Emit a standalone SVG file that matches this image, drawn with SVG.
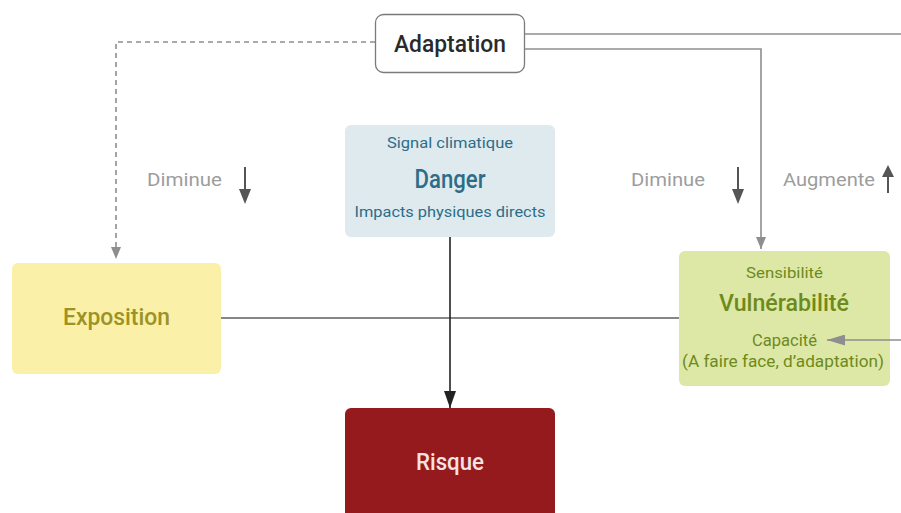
<svg xmlns="http://www.w3.org/2000/svg" width="901" height="513" viewBox="0 0 901 513">
  <style>
    text { font-family: Roboto, "DejaVu Sans Condensed", "Liberation Sans", sans-serif; text-anchor: middle; }
    .conn { fill: none; stroke: #8e8e8e; stroke-width: 1.6; }
    .dash { stroke-dasharray: 5 4; }
    .label { fill: #9d9d9d; font-size: 19px; }
    .title { font-weight: 500; }
    .dan { fill: #2e6d88; }
    .vul { fill: #6e8a1c; }
    .updown { fill: #555555; }
  </style>
  <defs>
    <marker id="tri-gray" viewBox="0 0 12 10" refX="12" refY="5" markerWidth="12" markerHeight="10" markerUnits="userSpaceOnUse" orient="auto">
      <path d="M0,0 L12,5 L0,10 z" fill="#8e8e8e"/>
    </marker>
    <marker id="tri-dark" viewBox="0 0 17 12" refX="17" refY="6" markerWidth="17" markerHeight="12" markerUnits="userSpaceOnUse" orient="auto">
      <path d="M0,0 L17,6 L0,12 z" fill="#222222"/>
    </marker>
    <marker id="tri-side" viewBox="0 0 18 11" refX="0" refY="5.5" markerWidth="18" markerHeight="11" markerUnits="userSpaceOnUse" orient="auto">
      <path d="M0,5.5 L18,0 L18,11 z" fill="#8e8e8e"/>
    </marker>
  </defs>

  <rect width="901" height="513" fill="#ffffff"/>

  <g id="adaptation">
    <rect x="375.5" y="14.5" width="149" height="58" rx="8" fill="#ffffff" stroke="#7a7a7a" stroke-width="1.3"/>
    <text class="title" x="450" y="52" font-size="24" fill="#2a2a2a" textLength="112" lengthAdjust="spacingAndGlyphs">Adaptation</text>
  </g>

  <g id="danger">
    <rect x="345" y="125" width="210" height="112" rx="6" fill="#dfeaef"/>
    <text class="dan" x="450" y="148" font-size="15.5" textLength="126" lengthAdjust="spacingAndGlyphs">Signal climatique</text>
    <text class="dan title" x="450" y="188" font-size="25" textLength="71" lengthAdjust="spacingAndGlyphs">Danger</text>
    <text class="dan" x="450" y="217" font-size="15.5" textLength="191" lengthAdjust="spacingAndGlyphs">Impacts physiques directs</text>
  </g>

  <g id="exposition">
    <rect x="12" y="263" width="209" height="111" rx="6" fill="#faf0a8"/>
    <text class="title" x="116.5" y="325" font-size="24" fill="#9c9226" textLength="107" lengthAdjust="spacingAndGlyphs">Exposition</text>
  </g>

  <g id="vulnerabilite">
    <rect x="679" y="251" width="211" height="135" rx="6" fill="#dde8a6"/>
    <text class="vul" x="784.5" y="278" font-size="15.5" textLength="77" lengthAdjust="spacingAndGlyphs">Sensibilité</text>
    <text class="vul title" x="784" y="311" font-size="23" textLength="130" lengthAdjust="spacingAndGlyphs">Vulnérabilité</text>
    <text class="vul" x="784.5" y="346" font-size="16.5" textLength="65" lengthAdjust="spacingAndGlyphs">Capacité</text>
    <text class="vul" x="783" y="367" font-size="16.5" textLength="202" lengthAdjust="spacingAndGlyphs">(A faire face, d’adaptation)</text>
  </g>

  <g id="risque">
    <rect x="345" y="408" width="210" height="120" rx="6" fill="#941a1e"/>
    <text class="title" x="450" y="470" font-size="24" fill="#f6e2e2" textLength="68" lengthAdjust="spacingAndGlyphs">Risque</text>
  </g>

  <g id="connectors">
    <!-- Adaptation down to Exposition (dashed) -->
    <path class="conn dash" d="M375,42 H116 V259" marker-end="url(#tri-gray)"/>
    <!-- Adaptation running off to the right -->
    <path class="conn" d="M525,34 H901"/>
    <!-- Adaptation down to Vulnérabilité -->
    <path class="conn" d="M525,49 H761 V249" marker-end="url(#tri-gray)"/>
    <!-- Exposition to Vulnérabilité -->
    <path d="M221,318 H679" fill="none" stroke="#5f5f5f" stroke-width="1.6"/>
    <!-- Danger to Risque -->
    <path d="M450,237 V408" fill="none" stroke="#222222" stroke-width="1.6" marker-end="url(#tri-dark)"/>
    <!-- incoming arrow onto Capacité -->
    <path class="conn" d="M827,340 H901" marker-start="url(#tri-side)"/>
  </g>

  <g id="labels">
    <text class="label" x="184.5" y="186" textLength="75" lengthAdjust="spacingAndGlyphs">Diminue</text>
    <path d="M245,167 V190" stroke="#555555" stroke-width="2"/>
    <path class="updown" d="M239,189 L251,189 L245,204 z"/>

    <text class="label" x="668" y="186" textLength="74" lengthAdjust="spacingAndGlyphs">Diminue</text>
    <path d="M738,167 V190" stroke="#555555" stroke-width="2"/>
    <path class="updown" d="M732,189 L744,189 L738,204 z"/>

    <text class="label" x="829" y="186" textLength="92" lengthAdjust="spacingAndGlyphs">Augmente</text>
    <path d="M888,176 V193" stroke="#555555" stroke-width="2"/>
    <path class="updown" d="M882,177 L894,177 L888,165 z"/>
  </g>
</svg>
